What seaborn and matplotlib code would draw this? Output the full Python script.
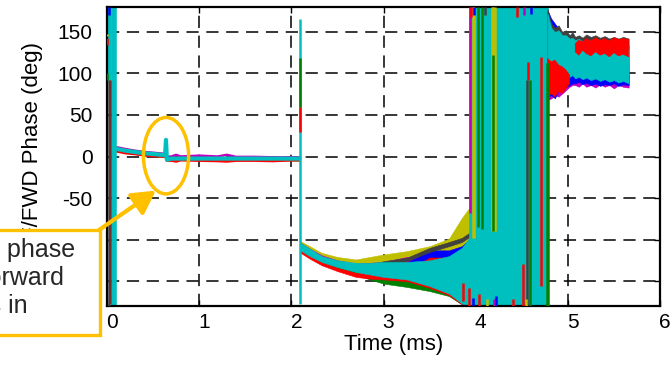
import numpy as np
import pandas as pd
import matplotlib
matplotlib.use('Agg')
import matplotlib.pyplot as plt
from matplotlib.patches import Ellipse, Rectangle
from matplotlib.transforms import ScaledTranslation
import seaborn as sns

sns.set_theme(style='ticks')
plt.rcParams['font.family'] = ['Liberation Sans', 'DejaVu Sans']
plt.rcParams['axes.unicode_minus'] = False

nan = np.nan
colors = {'b': '#0000FF', 'g': '#008000', 'r': '#FF0000', 'c': '#00BFBF',
          'm': '#BF00BF', 'y': '#BFBF00', 'k': '#404040'}
orange = '#FFC000'

# flat part, 0.1 - 2.1 ms (deg)
t_flat = [0.11, 0.20, 0.30, 0.40, 0.50, 0.60, 0.63, 0.64, 0.65, 0.70, 0.75, 0.80,
          1.00, 1.20, 1.30, 1.40, 1.60, 1.80, 2.00, 2.09]
flat = {
    'g': [7, 5, 3.5, 2, 1, 0, -0.5, -0.5, -4, -4, -4, -4, -4, -4.5, -4, -4, -4, -4, -4.5, -4.5],
    'r': [6, 4, 3, 1.5, 0.5, 0, -0.5, -0.5, -5, -5, -6, -4.5, -5, -5.5, -6, -5, -5, -5.5, -4.5, -4.5],
    'm': [11, 9, 7, 5.5, 4.5, 3.5, 3, 3, -0.5, 0, 2, 0, 1, 0, 2, -0.5, -0.5, -1, -1, -1],
    'c': [9, 7, 5.5, 4, 3, 2, 1.5, 20, -4, -2.5, -2.5, -2.5, -2.5, -2.5, -2.5, -2.5, -2.5, -2.5, -2.5, -2.5],
}

# ramp after the jump, 2.1 - 3.93 ms: low / high edge of each trace
t_ramp = [2.10, 2.20, 2.33, 2.50, 2.70, 2.85, 3.00, 3.25, 3.50, 3.71, 3.85, 3.93]
ramp_lo = {
    'g': [-114, -121, -128, -135, -142, -148, -153, -157, -162, -168, -178, -180],
    'y': [-110, -116, -124, -130, -134, -134, -134, -134, -132, -128, -125, -120],
    'm': [-110, -117, -125, -131, -135, -134, -133, -127, -128, -124, -118, -110],
    'r': [-116, -123, -131, -138, -145, -147, -148, -150, -158, -167, -178, -180],
    'b': [-110, -117, -125, -131, -136, -138, -139, -136, -121, -121, -116, -108],
    'k': [-112, -119, -126, -132, -136, -135, -131, -126, -115, -108, -103, -97],
    'c': [-113, -120, -127, -133, -139, -142, -145, -148, -156, -165, -177, -180],
}
ramp_hi = {
    'g': [-108, -115, -122, -128, -134, -137, -140, -143, -150, -158, -170, -175],
    'y': [-102, -108, -116, -121, -124, -121, -118, -114, -108, -99, -74, -62],
    'm': [-104, -111, -119, -125, -129, -128, -127, -121, -122, -118, -112, -104],
    'r': [-112, -119, -127, -134, -140, -140, -140, -137, -116, -124, -124, -115],
    'b': [-106, -113, -122, -127, -131, -132, -131, -128, -113, -113, -108, -100],
    'k': [-108, -115, -123, -129, -132, -131, -126, -122, -110, -103, -98, -92],
    'c': [-104, -111, -120, -125, -128, -128, -127, -127, -125, -120, -110, -98],
}

# settled part, 4.78 - 5.66 ms
t_tail = [4.78, 4.82, 4.86, 4.90, 4.94, 4.98, 5.02, 5.05, 5.08, 5.12, 5.16,
          5.20, 5.25, 5.30, 5.35, 5.40, 5.45, 5.50, 5.55, 5.60, 5.66]
tail_lo = {
    'm': [68, 70, 74, 72, 76, 80, 84, 86, 86, 84, 88, 84, 86, 83, 87, 84, 86, 82, 86, 84, 83],
    'b': [72, 74, 70, 80, 78, 84, 86, 88, 88, 90, 87, 89, 86, 88, 85, 87, 86, 88, 85, 87, 86],
    'k': [170, 152, 147, 149, 143, 143, 139, 140, 137, 139, 135, 138, 134, 136, 132, 134, 131, 133, 130, 132, 129],
    'c': [112, 110, 112, 106, 104, 100, 96, 98, 94, 96, 93, 95, 92, 94, 91, 93, 90, 92, 89, 91, 88],
    'r': [70, 76, 72, 78, 76, 82, 88, nan, 126, 122, 128, 124, 121, 126, 122, 124, 120, 125, 121, 123, 120],
}
tail_hi = {
    'm': [100, 100, 100, 100, 100, 100, 100, 100, 100, 100, 100, 100, 100, 100, 100, 100, 100, 100, 100, 100, 100],
    'b': [176, 166, 160, 154, 148, 146, 143, 144, 141, 143, 139, 142, 138, 140, 136, 138, 135, 137, 134, 136, 133],
    'k': [178, 160, 155, 158, 150, 152, 146, 150, 144, 146, 143, 147, 144, 146, 143, 145, 142, 144, 142, 144, 142],
    'c': [172, 155, 150, 152, 146, 146, 142, 143, 140, 142, 138, 141, 137, 139, 135, 137, 134, 136, 133, 135, 132],
    'r': [118, 114, 116, 110, 108, 104, 98, nan, 136, 140, 138, 142, 139, 143, 140, 142, 139, 143, 141, 142, 141],
}

# cyan trace wrapping over the full +-180 range
wrap_t0 = [0.00, 0.04, 3.93]
wrap_t1 = [0.04, 0.10, 4.78]
wrap_lo = [92, -180, -180]
wrap_hi = [180, 180, 180]

# single wrap-arounds / spikes of the other traces: series, time, low, high
spike_s = ['r', 'k', 'g', 'r', 'y', 'b',
           'c', 'g', 'r',
           'm', 'y', 'y', 'g', 'g', 'y', 'y', 'y', 'g',
           'r', 'k', 'g', 'r', 'r', 'g', 'g',
           'r', 'r', 'b', 'r', 'y', 'm', 'b', 'r', 'y',
           'r', 'b', 'k', 'r', 'm', 'b']
spike_t = [0.030, 0.018, 0.005, 0.005, 0.005, 0.025,
           2.095, 2.095, 2.095,
           3.935, 3.972, 3.985, 4.020, 4.070, 4.175, 4.190, 4.205, 4.190,
           4.510, 4.558, 4.585, 4.570, 4.705, 4.770, 4.780,
           3.860, 3.930, 3.970, 4.040, 4.120, 4.200, 4.220, 4.410, 4.550,
           3.950, 3.980, 4.100, 4.450, 4.520, 4.600]
spike_lo = [-178, -180, 92, 134, 145, 170,
            -177, 59, 29,
            -68, -98, -98, -85, -87, -90, -90, -90, -90,
            -180, -180, -180, 92, -156, -180, -180,
            -174, -180, -180, -180, -180, -180, -180, -180, -180,
            168, 170, 170, 168, 170, 172]
spike_hi = [92, 92, 100, 143, 148, 180,
            165, 118, 59,
            180, 180, 180, 180, 180, 180, 180, 180, 122,
            -130, 92, 92, 114, 120, 113, 113,
            -152, -158, -170, -165, -172, -172, -168, -172, -172,
            180, 180, 180, 180, 180, 180]

fig, ax = plt.subplots(figsize=(6.71, 3.68), dpi=100)
ax.set_position([107 / 671, 62 / 368, 553 / 671, 299 / 368])

# flat traces
df = pd.DataFrame([(t, v, s) for s in flat for t, v in zip(t_flat, flat[s])],
                  columns=['time', 'phase', 'series'])
sns.lineplot(data=df[df.series != 'c'], x='time', y='phase', hue='series',
             hue_order=['g', 'r', 'm'], palette=colors, estimator=None, sort=False,
             lw=1.8, legend=False, ax=ax)
sns.lineplot(data=df[df.series == 'c'], x='time', y='phase', color=colors['c'],
             estimator=None, sort=False, lw=3, legend=False, ax=ax)

# noisy bands
for s in ['g', 'y', 'm', 'r', 'b', 'k', 'c']:
    ax.fill_between(t_ramp, ramp_lo[s], ramp_hi[s], color=colors[s], lw=0.4, zorder=2)
for t0, t1, lo, hi in zip(wrap_t0, wrap_t1, wrap_lo, wrap_hi):
    ax.fill_between([t0, t1], lo, hi, color=colors['c'], lw=0.4, zorder=2)
for s in ['m', 'b', 'k', 'c', 'r']:
    ax.fill_between(t_tail, tail_lo[s], tail_hi[s], color=colors[s], lw=0.4, zorder=2)
ax.vlines(spike_t, spike_lo, spike_hi, colors=[colors[s] for s in spike_s], lw=1.8, zorder=3)

ax.set_xlim(0, 6)
ax.set_ylim(-180, 180)
ax.set_xticks(range(7))
yt = list(range(-150, 151, 50))
ax.set_yticks(yt)
# -150 and -100 sit under the callout box
ax.set_yticklabels(['' if v < -50 else str(v) for v in yt])
ax.grid(True, color='black', lw=1.1, linestyle=(0, (8, 5)))
ax.tick_params(direction='in', length=4, width=1, top=True, right=True,
               labelsize=15, colors='black')
ax.tick_params(axis='y', pad=10.5)
ax.tick_params(axis='x', pad=5)
for sp in ax.spines.values():
    sp.set_color('black')
    sp.set_linewidth(1.6)
offset = ScaledTranslation(5 / 100, 0, fig.dpi_scale_trans)
for lab in ax.get_xticklabels():
    lab.set_transform(lab.get_transform() + offset)

ax.set_xlabel('Time (ms)', fontsize=16, color='black')
ax.xaxis.set_label_coords(0.519, -0.094)
ax.set_ylabel('REF/FWD Phase (deg)', fontsize=16, color='black')
ax.yaxis.set_label_coords(-0.116, 0.5)

# callout
ax.add_patch(Ellipse((0.64, 1), 0.49, 92, fill=False, ec=orange, lw=2.5, zorder=5))
ax.annotate('', xy=(0.53, -41), xycoords='data',
            xytext=(99 / 671, 138 / 368), textcoords='figure fraction',
            arrowprops=dict(arrowstyle='-|>,head_length=1.0,head_width=0.55',
                            mutation_scale=14, lw=3, color=orange,
                            shrinkA=0, shrinkB=0, clip_on=False),
            annotation_clip=False)
fig.patches.append(Rectangle((-0.2, 33 / 368), 0.2 + 100 / 671, 105 / 368,
                             transform=fig.transFigure, fc='white', ec=orange,
                             lw=2.4, zorder=5))
fig.text(-89 / 671, 0.245, 'Spike in phase\nof the forward\nsignal is in', fontsize=18,
         ha='left', va='center', linespacing=1.2, zorder=6)

fig.savefig('out.png', dpi=100)
